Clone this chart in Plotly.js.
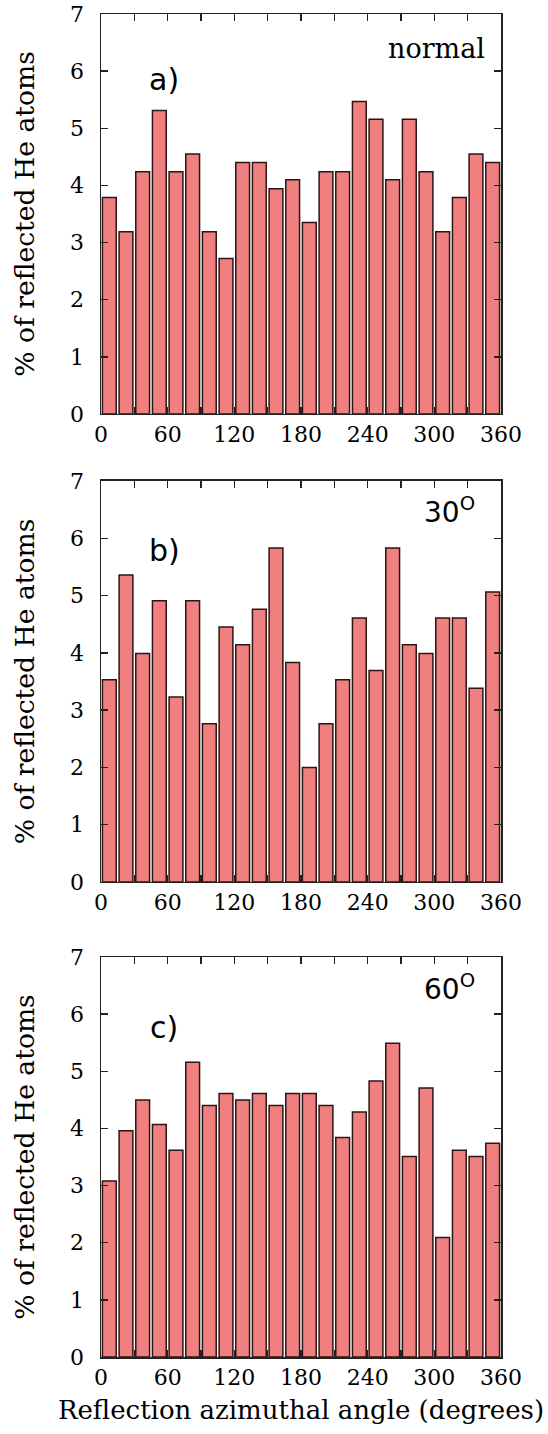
<!DOCTYPE html>
<html>
<head>
<meta charset="utf-8">
<script src="https://cdn.plot.ly/plotly-3.0.1.min.js"></script>
<style>html,body{margin:0;padding:0;background:#fff;}#chart{width:548px;height:1434px;}</style>
</head>
<body>
<div id="chart"></div>
<script>
// Azimuthal bins (centres, degrees)
const binCenters = [7.5,22.5,37.5,52.5,67.5,82.5,97.5,112.5,127.5,142.5,157.5,172.5,
                    187.5,202.5,217.5,232.5,247.5,262.5,277.5,292.5,307.5,322.5,337.5,352.5];
// % of reflected He atoms
const normalInc = [3.79,3.19,4.24,5.31,4.24,4.55,3.19,2.72,4.40,4.40,3.94,4.10,
                   3.35,4.24,4.24,5.47,5.16,4.10,5.16,4.24,3.19,3.79,4.55,4.40];
const inc30 = [3.53,5.36,3.99,4.91,3.23,4.91,2.76,4.45,4.14,4.76,5.83,3.83,
               2.00,2.76,3.53,4.61,3.69,5.83,4.14,3.99,4.61,4.61,3.38,5.06];
const inc60 = [3.08,3.96,4.50,4.07,3.62,5.16,4.40,4.61,4.50,4.61,4.40,4.61,
               4.61,4.40,3.84,4.29,4.83,5.49,3.51,4.71,2.09,3.62,3.51,3.74];
const xTickVals = [0,60,120,180,240,300,360];
const xTickText = ['0','60','120','180','240','300','360'];
const xMinorVals = [0,30,60,90,120,150,180,210,240,270,300,330,360];
const yTickVals = [0,1,2,3,4,5,6,7];
const panelLabels = ['a)','b)','c)'];
const incLabels = ['normal','30<sup>O</sup>','60<sup>O</sup>'];

const serif = 'DejaVu Serif';
const sans = 'DejaVu Sans';
const series = [normalInc, inc30, inc60];
const domains = [[0.7022,1],[0.3537,0.6523],[0,0.2978]];

const data = series.map((vals,i)=>({
  type:'bar', x:binCenters, y:vals, width:12.4,
  xaxis: i===0?'x':'x'+(i+1), yaxis: i===0?'y':'y'+(i+1),
  marker:{color:'#F08080', line:{color:'#2e1414', width:1.5}},
  showlegend:false, hoverinfo:'x+y'
}));

const layout = {
  width:548, height:1434,
  margin:{l:101, r:47, t:14, b:77},
  paper_bgcolor:'#fff', plot_bgcolor:'#fff',
  font:{family:serif, size:22, color:'#000'},
  bargap:0,
  annotations:[]
};

for (let i=0;i<3;i++){
  const s = i===0?'':String(i+1);
  const xa = {
    domain:[0,1], anchor:'y'+s, range:[0,360],
    tickmode:'array', tickvals:xTickVals, ticktext:xTickText,
    ticks:'inside', ticklen:7, tickwidth:1.5, tickcolor:'#222',
    minor:{tickmode:'array', tickvals:xMinorVals, ticks:'inside', ticklen:7, tickwidth:1.5, tickcolor:'#222', showgrid:false},
    showline:true, linecolor:'#222', linewidth:1.5, mirror:'ticks',
    showgrid:false, zeroline:false,
    tickfont:{family:serif, size:22, color:'#000'}
  };
  if (i===2) xa.title = {text:'Reflection azimuthal angle (degrees)', font:{family:serif,size:26,color:'#000'}, standoff:12};
  layout['xaxis'+s] = xa;
  layout['yaxis'+s] = {
    domain:domains[i], anchor:'x'+s, range:[0,7],
    tickvals:yTickVals,
    ticks:'inside', ticklen:7, tickwidth:1.5, tickcolor:'#222',
    showline:true, linecolor:'#222', linewidth:1.5, mirror:'ticks',
    showgrid:false, zeroline:false,
    ticklabelstandoff:11,
    tickfont:{family:serif, size:22, color:'#000'},
    title:{text:'% of reflected He atoms', font:{family:serif,size:26.6,color:'#000'}, standoff:28}
  };
  layout.annotations.push({
    xref:'x'+s, yref:'y'+s, x:57, y:[5.85,5.79,5.76][i],
    text:panelLabels[i], showarrow:false,
    font:{family:sans, size:30, color:'#000'}
  });
  layout.annotations.push({
    xref:'x'+s, yref:'y'+s, x:i===0?302:314, y:[6.40,6.49,6.47][i],
    text:incLabels[i], showarrow:false,
    font:{family: i===0?serif:sans, size: i===0?27:28, color:'#000'}
  });
}

Plotly.newPlot('chart', data, layout, {displayModeBar:false, staticPlot:true});
</script>
</body>
</html>
